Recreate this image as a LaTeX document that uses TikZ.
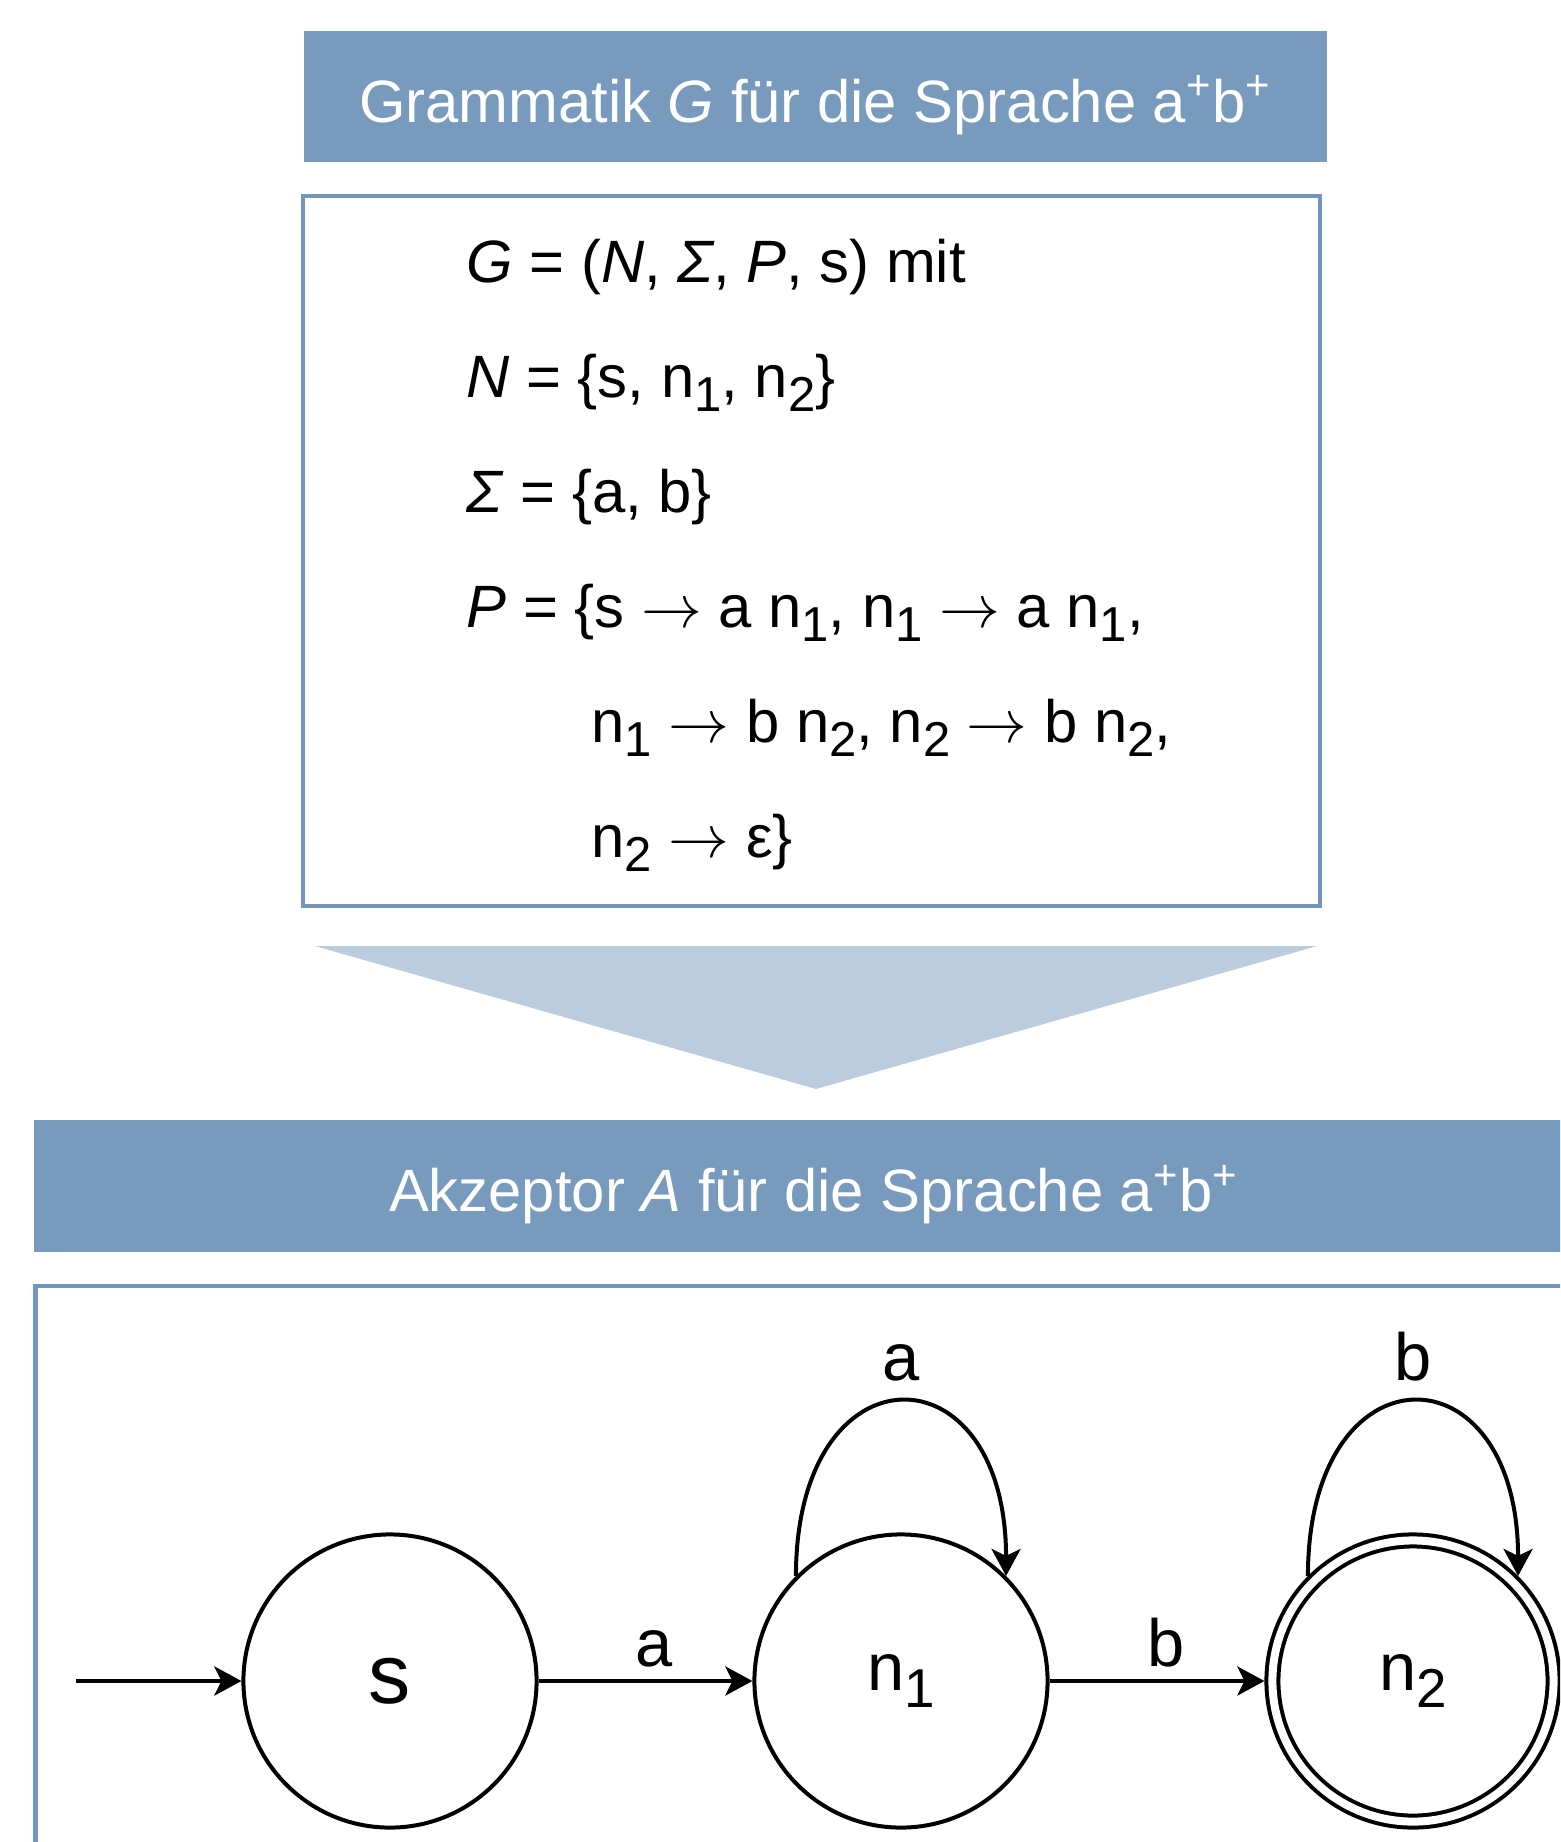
\documentclass[tikz,border=0pt]{standalone}
\usepackage{fontspec}
\setmainfont{Liberation Sans}
\usetikzlibrary{arrows.meta}

\definecolor{kopfblau}{RGB}{119,154,189}
\definecolor{randblau}{RGB}{117,150,188}
\definecolor{pfeilblau}{RGB}{187,204,221}

% 下标 (n_1, n_2) 和 箭头
\newcommand{\idx}[1]{\raisebox{-0.25em}{\scalebox{0.82}{#1}}}
\newcommand{\pf}{$\rightarrow$}

\tikzset{
  zustand/.style={circle, draw, line width=0.04cm, minimum size=2.93cm, inner sep=0pt, font=\fontsize{19}{22}\selectfont},
  endzustand/.style={zustand, double, double distance=0.08cm, minimum size=2.81cm, outer sep=0.08cm},
  kante/.style={-{Stealth[length=0.27cm, width=0.29cm, inset=0.07cm]}, line width=0.04cm},
  kopf/.style={fill=kopfblau, text=white, font=\fontsize{17}{20}\selectfont, minimum height=1.31cm, text height=0.6cm, text depth=0.09cm, inner sep=0pt},
  zeile/.style={anchor=base west, inner sep=0pt, font=\fontsize{17}{20}\selectfont},
  marke/.style={font=\fontsize{19}{22}\selectfont}
}

\begin{document}
\begin{tikzpicture}[x=0.01cm, y=-0.01cm]
    % --- 画布 ---
    \useasboundingbox (0,0) rectangle (1560,1842);
    \clip (0,0) rectangle (1560,1842);

    % --- 上部: 文法 G ---
    \node[kopf, minimum width=10.23cm] (kopfG) at (815.5,96.5) {Grammatik \textit{G} für die Sprache a\textsuperscript{+}b\textsuperscript{+}};
    \node[draw=randblau, line width=0.04cm, minimum width=10.17cm, minimum height=7.1cm, inner sep=0pt] (grammatik) at (811.5,551) {};

    \node[zeile] (g1) at (466,282) {\textit{G} = (\textit{N}, \textit{Σ}, \textit{P}, s) mit};
    \node[zeile] (g2) at (466,397) {\textit{N} = \{s, n\idx{1}, n\idx{2}\}};
    \node[zeile] (g3) at (466,512) {\textit{Σ} = \{a, b\}};
    \node[zeile] (g4) at (466,627) {\textit{P} = \{s \pf{} a n\idx{1}, n\idx{1} \pf{} a n\idx{1},};
    \node[zeile] (g5) at (591,742) {n\idx{1} \pf{} b n\idx{2}, n\idx{2} \pf{} b n\idx{2},};
    \node[zeile] (g6) at (591,857) {n\idx{2} \pf{} ε\}};

    % --- 三角形箭头 ---
    \fill[pfeilblau] (315,946) -- (1317,946) -- (816,1089) -- cycle;

    % --- 下部: 自动机 A ---
    \node[kopf, minimum width=15.585cm] (kopfA) at (814,1186) {Akzeptor \textit{A} für die Sprache a\textsuperscript{+}b\textsuperscript{+}};
    \draw[randblau, line width=0.04cm] (35.5,1285.5) rectangle (1593,1900);

    % 状态
    \node[zustand, font=\fontsize{24}{28}\selectfont] (s) at (390,1681) {s};
    \node[zustand] (n1) at (901,1681) {n\idx{1}};
    \node[endzustand] (n2) at (1413,1681) {n\idx{2}};

    % 转移
    \coordinate (start) at (76,1681);
    \draw[kante] (start) -- (s);
    \draw[kante] (s) -- node[marke, pos=0.54, above] {a} (n1);
    \draw[kante] (n1) -- node[marke, pos=0.54, above] {b} (n2);
    \draw[kante] (n1.135) .. controls +(0,-232) and +(0,-232) .. node[marke, above, yshift=2pt] {a} (n1.45);
    \draw[kante] (n2.135) .. controls +(0,-232) and +(0,-232) .. node[marke, above, yshift=2pt] {b} (n2.45);

\end{tikzpicture}
\end{document}
